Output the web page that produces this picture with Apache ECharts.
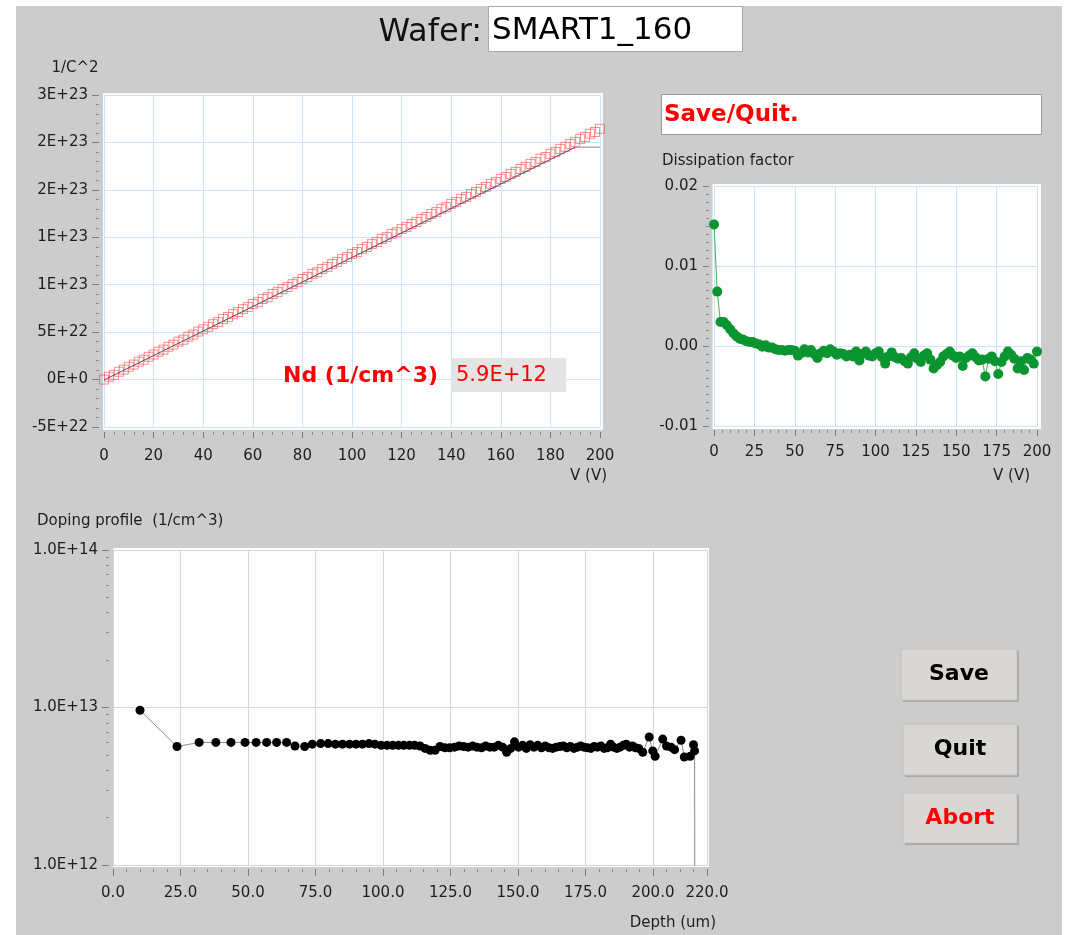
<!DOCTYPE html>
<html>
<head>
<meta charset="utf-8">
<script src="https://cdn.jsdelivr.net/npm/echarts@6.0.0/dist/echarts.min.js"></script>
<style>
  html, body { margin: 0; padding: 0; background: #ffffff; }
  #panel { position: absolute; left: 16px; top: 6px; width: 1046px; height: 929px; background: #cccccc; }
  #main { position: absolute; left: 0; top: 0; width: 1068px; height: 935px; }
</style>
</head>
<body>
<div id="panel"></div>
<div id="main"></div>
<script>
// ---- 1/C^2 vs V (values in units of 1E+22) ----
var voltage = [0, 2, 4, 6, 8, 10, 12, 14, 16, 18, 20, 22, 24, 26, 28, 30, 32, 34, 36, 38,
    40, 42, 44, 46, 48, 50, 52, 54, 56, 58, 60, 62, 64, 66, 68, 70, 72, 74, 76, 78,
    80, 82, 84, 86, 88, 90, 92, 94, 96, 98, 100, 102, 104, 106, 108, 110, 112, 114, 116, 118,
    120, 122, 124, 126, 128, 130, 132, 134, 136, 138, 140, 142, 144, 146, 148, 150, 152, 154, 156, 158,
    160, 162, 164, 166, 168, 170, 172, 174, 176, 178, 180, 182, 184, 186, 188, 190, 192, 194, 196, 198, 200];
var invC2 = [0.00, 0.30, 0.50, 0.82, 1.05, 1.34, 1.58, 1.88, 2.10, 2.40, 2.64, 2.94, 3.16, 3.46, 3.68, 4.00, 4.20, 4.52, 4.74, 5.06,
    5.30, 5.56, 5.84, 6.06, 6.38, 6.60, 6.90, 7.12, 7.42, 7.64, 7.96, 8.16, 8.50, 8.68, 9.02, 9.22, 9.54, 9.76, 10.06, 10.28,
    10.60, 10.80, 11.14, 11.32, 11.66, 11.86, 12.18, 12.40, 12.70, 12.92, 13.24, 13.44, 13.76, 13.98, 14.28, 14.50, 14.82, 15.02, 15.36, 15.54,
    15.88, 16.08, 16.40, 16.62, 16.92, 17.14, 17.46, 17.66, 18.00, 18.18, 18.52, 18.72, 19.04, 19.26, 19.56, 19.78, 20.10, 20.30, 20.64, 20.82,
    21.16, 21.36, 21.68, 21.90, 22.20, 22.42, 22.74, 22.94, 23.28, 23.46, 23.80, 24.00, 24.32, 24.54, 24.84, 25.06, 25.38, 25.58, 25.92, 26.10, 26.44];
var fitV = [0, 190];
var fitInvC2 = [-0.05, 24.5];
var plateauV = [190, 200];
var plateauInvC2 = [24.5, 24.5];
var invC2TickLabels = ['-5E+22', '0E+0', '5E+22', '1E+23', '1E+23', '2E+23', '2E+23', '3E+23'];

// ---- Dissipation factor vs V ----
var dissipation = [0.0152, 0.0068, 0.0030, 0.0030, 0.0026, 0.0021, 0.0016, 0.0012, 0.0009, 0.0008,
    0.0006, 0.0005, 0.0005, 0.0003, 0.0002, -0.0001, 0.0001, -0.0002, -0.0002, -0.0004,
    -0.0005, -0.0005, -0.0006, -0.0005, -0.0005, -0.0006, -0.0012, -0.0009, -0.0004, -0.0008,
    -0.0005, -0.0010, -0.0015, -0.0009, -0.0006, -0.0009, -0.0004, -0.0007, -0.0011, -0.0009,
    -0.0010, -0.0013, -0.0011, -0.0013, -0.0007, -0.0018, -0.0010, -0.0007, -0.0012, -0.0013,
    -0.0009, -0.0007, -0.0014, -0.0022, -0.0013, -0.0008, -0.0014, -0.0016, -0.0015, -0.0019,
    -0.0022, -0.0014, -0.0009, -0.0016, -0.0020, -0.0012, -0.0009, -0.0017, -0.0028, -0.0024,
    -0.0020, -0.0013, -0.0010, -0.0007, -0.0012, -0.0015, -0.0013, -0.0025, -0.0015, -0.0012,
    -0.0009, -0.0014, -0.0018, -0.0017, -0.0038, -0.0016, -0.0013, -0.0019, -0.0035, -0.0020,
    -0.0013, -0.0007, -0.0011, -0.0016, -0.0028, -0.0019, -0.0030, -0.0015, -0.0017, -0.0022, -0.0007];

// ---- Doping profile vs depth ----
var depthUm = [10.0, 23.7, 31.9, 38.1, 43.7, 48.9, 53.0, 56.9, 60.6, 64.3,
    67.4, 71.0, 73.8, 76.9, 79.7, 82.4, 85.0, 87.6, 90.0, 92.4,
    94.8, 97.0, 99.3, 101.5, 103.6, 105.7, 107.7, 109.8, 111.7, 113.7,
    115.6, 117.5, 119.3, 121.1, 122.9, 124.7, 126.5, 128.2, 129.9, 131.5,
    133.2, 134.8, 136.5, 138.0, 139.6, 141.2, 142.7, 144.3, 145.8, 147.3,
    148.7, 150.2, 151.7, 153.1, 154.5, 155.9, 157.3, 158.7, 160.1, 161.5,
    162.8, 164.1, 165.5, 166.8, 168.1, 169.4, 170.7, 172.0, 173.2, 174.5,
    175.7, 177.0, 178.2, 179.4, 180.7, 181.9, 183.1, 184.3, 185.4, 186.6,
    187.8, 189.0, 190.1, 191.3, 192.4, 193.5, 194.7, 196.2, 198.6, 199.9,
    200.8, 203.6, 205.0, 206.7, 208.0, 210.4, 211.6, 213.8, 215.0, 215.4, 215.5];
var dopingCm3 = [9.6e12, 5.65e12, 6.0e12, 6.0e12, 6.0e12, 6.0e12, 6.0e12, 6.0e12, 6.0e12, 6.0e12,
    5.7e12, 5.65e12, 5.85e12, 5.9e12, 5.9e12, 5.85e12, 5.85e12, 5.85e12, 5.85e12, 5.85e12,
    5.9e12, 5.85e12, 5.75e12, 5.75e12, 5.75e12, 5.75e12, 5.75e12, 5.75e12, 5.75e12, 5.7e12,
    5.5e12, 5.35e12, 5.35e12, 5.65e12, 5.55e12, 5.55e12, 5.6e12, 5.7e12, 5.65e12, 5.6e12,
    5.7e12, 5.6e12, 5.55e12, 5.7e12, 5.6e12, 5.6e12, 5.75e12, 5.6e12, 5.2e12, 5.5e12,
    6.05e12, 5.6e12, 5.75e12, 5.5e12, 5.8e12, 5.6e12, 5.75e12, 5.55e12, 5.7e12, 5.55e12,
    5.5e12, 5.6e12, 5.65e12, 5.7e12, 5.55e12, 5.65e12, 5.5e12, 5.6e12, 5.7e12, 5.6e12,
    5.55e12, 5.5e12, 5.65e12, 5.6e12, 5.7e12, 5.5e12, 5.55e12, 5.85e12, 5.6e12, 5.5e12,
    5.6e12, 5.75e12, 5.85e12, 5.6e12, 5.7e12, 5.55e12, 5.5e12, 5.2e12, 6.5e12, 5.3e12,
    4.9e12, 6.3e12, 5.7e12, 5.6e12, 5.4e12, 6.2e12, 4.85e12, 4.9e12, 5.8e12, 5.3e12, 2e11];
var dopingTickLabels = ['1.0E+12', '1.0E+13', '1.0E+14'];
var dopingMinorTicks = [2e12, 3e12, 4e12, 5e12, 6e12, 7e12, 8e12, 9e12,
    2e13, 3e13, 4e13, 5e13, 6e13, 7e13, 8e13, 9e13];

var FONT = 'DejaVu Sans';
var blueGrid = '#cfe3fa';

function pairs(xs, ys) {
    return xs.map(function(x, i) { return [x, ys[i]]; });
}

function valueAxis(extra) {
    var base = {
        type: 'value',
        axisLine: { show: false, onZero: false },
        axisTick: { show: true, length: 6, lineStyle: { color: '#7a7a7a' } },
        minorTick: { show: true, splitNumber: 5, length: 3, lineStyle: { color: '#8a8a8a' } },
        axisLabel: { fontFamily: FONT, fontSize: 15, color: '#1e1e1e' },
        splitLine: { show: true, lineStyle: { color: blueGrid, width: 1 } }
    };
    for (var k in extra) {
        if (typeof extra[k] === 'object' && base[k] && !Array.isArray(extra[k])) {
            base[k] = Object.assign({}, base[k], extra[k]);
        } else {
            base[k] = extra[k];
        }
    }
    return base;
}

function button(x, y, w, h, label, color) {
    return {
        type: 'group',
        children: [
            { type: 'rect', shape: { x: x + 2, y: y + 2, width: w, height: h }, style: { fill: '#a6a6a6' } },
            { type: 'rect', shape: { x: x, y: y, width: w, height: h }, style: { fill: '#d9d7d3', stroke: '#c4c2be', lineWidth: 1 } },
            { type: 'text', x: x + w / 2, y: y + h / 2, style: { text: label, font: 'bold 22px "' + FONT + '"', fill: color, align: 'center', verticalAlign: 'middle' } }
        ]
    };
}

function label(x, y, text, size, align, extraStyle) {
    return {
        type: 'text', x: x, y: y, z: 10,
        style: Object.assign({ text: text, font: size + 'px "' + FONT + '"', fill: '#1e1e1e', align: align || 'left', verticalAlign: 'middle' }, extraStyle || {})
    };
}

var myChart = echarts.init(document.getElementById('main'), null, { renderer: 'canvas' });

var option = {
    animation: false,
    grid: [
        { left: 104, top: 95, width: 496, height: 332 },
        { left: 714, top: 186, width: 323, height: 240 },
        { left: 113, top: 550, width: 594, height: 315 }
    ],
    xAxis: [
        valueAxis({ gridIndex: 0, min: 0, max: 200, interval: 20, offset: 5, position: 'bottom',
            axisLabel: { margin: 17 } }),
        valueAxis({ gridIndex: 1, min: 0, max: 200, interval: 25, offset: 4, position: 'bottom',
            axisLabel: { margin: 15 } }),
        valueAxis({ gridIndex: 2, min: 0, max: 220, interval: 25, offset: 4, position: 'bottom',
            axisTick: { length: 7, lineStyle: { color: '#7a7a7a' } },
            axisLabel: { margin: 17, showMaxLabel: true, formatter: function(v) { return v.toFixed(1); } },
            splitLine: { show: true, lineStyle: { color: '#d6d6d6' } } })
    ],
    yAxis: [
        valueAxis({ gridIndex: 0, min: -5, max: 30, interval: 5, offset: 5, position: 'left',
            axisTick: { length: 7, lineStyle: { color: '#7a7a7a' } },
            axisLabel: { margin: 11, formatter: function(v) { return invC2TickLabels[Math.round((v + 5) / 5)]; } } }),
        valueAxis({ gridIndex: 1, min: -0.01, max: 0.02, interval: 0.01, offset: 5, position: 'left',
            minorTick: { splitNumber: 10 },
            axisLabel: { margin: 11, formatter: function(v) { return v.toFixed(2); } } }),
        {
            gridIndex: 2, type: 'log', min: 1e12, max: 1e14, offset: 4, position: 'left',
            axisLine: { show: false, onZero: false },
            axisTick: { show: true, length: 7, lineStyle: { color: '#7a7a7a' } },
            axisLabel: { margin: 11, fontFamily: FONT, fontSize: 15, color: '#1e1e1e',
                formatter: function(v) { return dopingTickLabels[Math.round(Math.log10(v)) - 12]; } },
            splitLine: { show: true, lineStyle: { color: '#d6d6d6' } }
        },
        {
            gridIndex: 2, type: 'log', min: 1e12, max: 1e14, offset: 4, position: 'left',
            axisLine: { show: false, onZero: false },
            axisTick: { show: true, length: 3, customValues: dopingMinorTicks, lineStyle: { color: '#8a8a8a' } },
            axisLabel: { show: false },
            splitLine: { show: false }
        }
    ],
    series: [
        {
            name: '1/C^2', type: 'scatter', xAxisIndex: 0, yAxisIndex: 0,
            symbol: 'rect', symbolSize: 9,
            itemStyle: { color: 'rgba(255,0,0,0)', borderColor: 'rgba(255,40,40,0.65)', borderWidth: 1 },
            data: pairs(voltage, invC2)
        },
        {
            name: 'fit', type: 'line', xAxisIndex: 0, yAxisIndex: 0, showSymbol: false, z: 4,
            lineStyle: { color: '#4b5170', width: 1 },
            data: pairs(fitV, fitInvC2)
        },
        {
            name: 'plateau', type: 'line', xAxisIndex: 0, yAxisIndex: 0, showSymbol: false, z: 4,
            lineStyle: { color: '#8e8e8e', width: 1 },
            data: pairs(plateauV, plateauInvC2)
        },
        {
            name: 'Dissipation factor', type: 'line', xAxisIndex: 1, yAxisIndex: 1,
            symbol: 'circle', symbolSize: 10,
            itemStyle: { color: '#0a9530' },
            lineStyle: { color: '#3cb45c', width: 1 },
            data: pairs(voltage, dissipation)
        },
        {
            name: 'Doping profile', type: 'line', xAxisIndex: 2, yAxisIndex: 2,
            symbol: 'circle', symbolSize: 9,
            itemStyle: { color: '#000000' },
            lineStyle: { color: '#8c8c8c', width: 1 },
            data: pairs(depthUm, dopingCm3)
        }
    ],
    graphic: [
        // white plot backgrounds
        { type: 'rect', z: -10, shape: { x: 103, y: 93, width: 500, height: 337 }, style: { fill: '#fdfdfd' } },
        { type: 'rect', z: -10, shape: { x: 712.5, y: 184, width: 328.5, height: 245 }, style: { fill: '#fdfdfd' } },
        { type: 'rect', z: -10, shape: { x: 113, y: 548, width: 596, height: 319 }, style: { fill: '#fdfdfd' } },

        // header
        label(482, 33, 'Wafer:', 32, 'right', { fill: '#111111' }),
        { type: 'rect', z: 5, shape: { x: 488.5, y: 6.5, width: 254, height: 45 }, style: { fill: '#ffffff', stroke: '#a8a8a8', lineWidth: 1 } },
        label(492, 31, 'SMART1_160', 31, 'left', { fill: '#000000' }),

        // status box
        { type: 'rect', z: 5, shape: { x: 661.5, y: 94.5, width: 380, height: 40 }, style: { fill: '#ffffff', stroke: '#9a9a9a', lineWidth: 1 } },
        { type: 'text', z: 10, x: 664, y: 115, style: { text: 'Save/Quit.', font: 'bold 23px "' + FONT + '"', fill: '#ff0000', align: 'left', verticalAlign: 'middle' } },

        // axis titles
        label(75, 68, '1/C^2', 15, 'center'),
        label(607, 476, 'V (V)', 15, 'right'),
        label(662, 161, 'Dissipation factor', 15, 'left'),
        label(1030, 476, 'V (V)', 15, 'right'),
        label(37, 521, 'Doping profile  (1/cm^3)', 15, 'left'),
        label(716, 923, 'Depth (um)', 15, 'right'),

        // Nd result
        { type: 'text', z: 10, x: 438, y: 376, style: { text: 'Nd (1/cm^3)', font: 'bold 22px "' + FONT + '"', fill: '#ff0000', align: 'right', verticalAlign: 'middle' } },
        { type: 'rect', z: 5, shape: { x: 452, y: 358, width: 114, height: 34 }, style: { fill: '#e4e4e4' } },
        { type: 'text', z: 10, x: 456, y: 376, style: { text: '5.9E+12', font: '21px "' + FONT + '"', fill: '#ff0000', align: 'left', verticalAlign: 'middle' } },

        // buttons
        button(901, 649, 116, 51, 'Save', '#000000'),
        button(903, 724, 114, 51, 'Quit', '#000000'),
        button(903, 793, 114, 50, 'Abort', '#ff0000')
    ]
};

myChart.setOption(option);
</script>
</body>
</html>
